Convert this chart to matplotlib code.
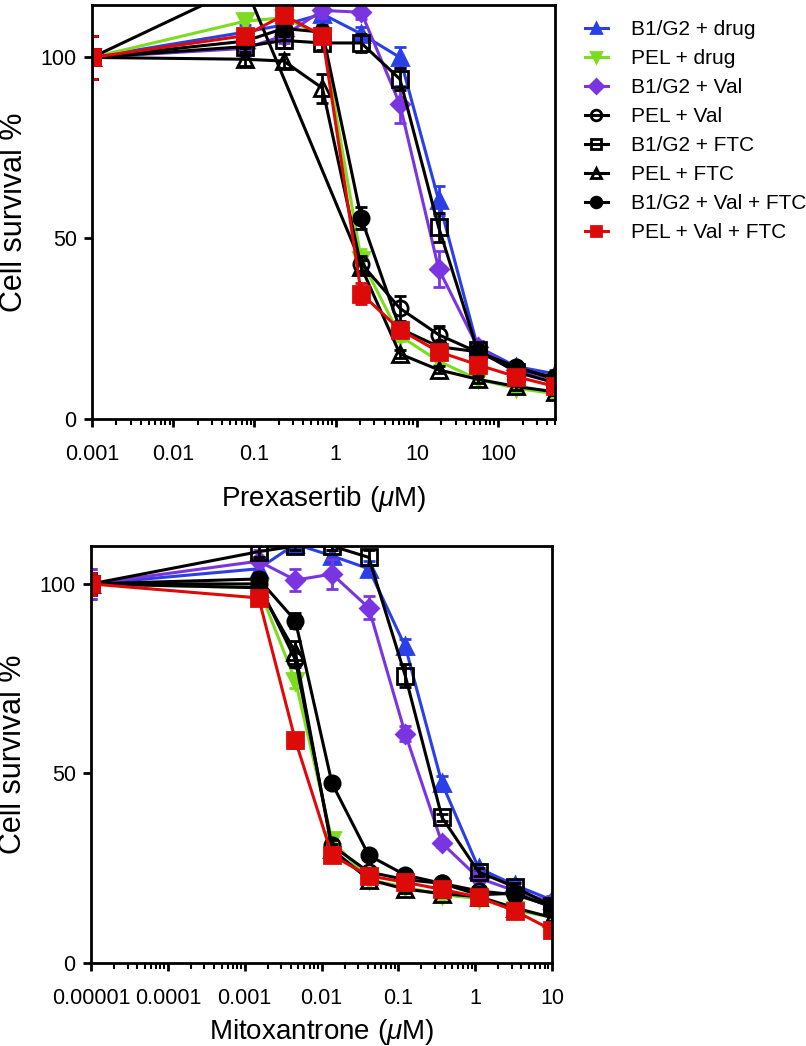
import numpy as np
import matplotlib
matplotlib.use("Agg")
import matplotlib.pyplot as plt
from matplotlib.ticker import LogLocator, NullFormatter, FixedLocator, FixedFormatter

plt.rcParams['font.family'] = ['Liberation Sans', 'DejaVu Sans']
plt.rcParams['mathtext.fontset'] = 'custom'
plt.rcParams['mathtext.rm'] = 'Liberation Sans'
plt.rcParams['mathtext.it'] = 'Liberation Sans:italic'

labels = ["B1/G2 + drug", "PEL + drug", "B1/G2 + Val", "PEL + Val",
          "B1/G2 + FTC", "PEL + FTC", "B1/G2 + Val + FTC", "PEL + Val + FTC"]

# prexasertib (uM), control drawn at 0.001
x_prex = [0.001, 0.0762, 0.229, 0.686, 2.06, 6.17, 18.5, 55.6, 166.7, 500]
prex = {
    "B1/G2 + drug":      [100, 107, 109, 112, 106.5, 100, 60.5, 20, 14.5, 12.5],
    "PEL + drug":        [100, 110, 111, 106, 44, 23, 16, 11, 8.5, 7],
    "B1/G2 + Val":       [100, 102.5, 106, 113, 112.5, 87, 41.5, 20, 13.5, 11],
    "PEL + Val":         [100, 120, None, None, 43, 30.6, 23.3, 18.5, 14, 11.5],
    "B1/G2 + FTC":       [100, 103, 104.7, 104, 104, 94, 53, 19, 13, 10],
    "PEL + FTC":         [100, 99.5, 99, 91.5, 42, 18, 13.6, 11, 9, 7.5],
    "B1/G2 + Val + FTC": [100, 104.5, 108, 107, 55.6, 25, 20, 18.6, 14.4, 11],
    "PEL + Val + FTC":   [100, 106, 111.7, 106, 34.7, 24.7, 18.6, 15, 11.7, 9],
}
prex_err = {
    "B1/G2 + drug":      [6, 2, 2, 2, 2, 3, 4, 1.5, 1, 1],
    "PEL + drug":        [6, 2, 1.5, 1.5, 3, 1.5, 1, 1, 1, 1],
    "B1/G2 + Val":       [6, 2, 2, 2, 2, 5, 5, 1.5, 1, 1],
    "PEL + Val":         [6, 2, 0, 0, 2, 3.5, 2.5, 1.5, 1, 1],
    "B1/G2 + FTC":       [6, 2, 2, 2, 2.5, 3, 4, 1.5, 1, 1],
    "PEL + FTC":         [6, 2, 2, 4, 2, 1, 1, 1, 1, 1],
    "B1/G2 + Val + FTC": [6, 2, 2, 2, 3, 1.5, 1.5, 1, 1, 1],
    "PEL + Val + FTC":   [6, 2, 2, 2, 3, 1.5, 1, 1, 1, 1],
}

# mitoxantrone (uM), control drawn at 0.00001
x_mito = [0.00001, 0.00152, 0.00457, 0.0137, 0.0412, 0.123, 0.370, 1.11, 3.33, 10]
mito = {
    "B1/G2 + drug":      [100, 104, 110.5, 107.4, 104, 83.5, 47.4, 25, 20.5, 16.6],
    "PEL + drug":        [100, 99, 74.5, 32.4, 22, 20, 18, 17, 14, 12],
    "B1/G2 + Val":       [100, 106, 101, 102.6, 93.7, 60.5, 31.6, 22.4, 19, 16],
    "PEL + Val":         [100, 100, 80, 31, 24, 22, 21, 19, 18, 15],
    "B1/G2 + FTC":       [100, 108.5, 110, 110, 107, 75.8, 38.4, 24, 20, 15],
    "PEL + FTC":         [100, 99, 82, 30, 22, 19.5, 18.3, 17.5, 14.5, 12],
    "B1/G2 + Val + FTC": [100, 101.3, 90.3, 47.4, 28.4, 23.2, 21, 18, 18.4, 14.7],
    "PEL + Val + FTC":   [100, 96.3, 58.7, 28.4, 23, 21.3, 19.4, 17.4, 13.7, 8.7],
}
mito_err = {
    "B1/G2 + drug":      [4, 1.5, 1, 1.5, 2, 2, 2, 1, 1, 1],
    "PEL + drug":        [3, 1.5, 2, 1.5, 1, 1, 1, 1, 1, 1],
    "B1/G2 + Val":       [4, 3, 3, 4, 3, 2, 1, 1, 1, 1],
    "PEL + Val":         [3, 1.5, 2, 1.5, 1, 1, 1, 1, 1, 1],
    "B1/G2 + FTC":       [3, 1.5, 1, 1, 2, 3, 1, 1, 1, 1],
    "PEL + FTC":         [3, 1.5, 3, 1.5, 1, 1, 1, 1, 1, 1],
    "B1/G2 + Val + FTC": [3, 1.5, 2, 1, 1, 1, 1, 1, 1, 1],
    "PEL + Val + FTC":   [3, 1.5, 2, 1.5, 1, 1, 1, 1, 1, 1],
}

styles = {
    "B1/G2 + drug":      dict(color="#2b3fe6", marker="^", mfc="#2b3fe6"),
    "PEL + drug":        dict(color="#7ddc1f", marker="v", mfc="#7ddc1f"),
    "B1/G2 + Val":       dict(color="#7a35e0", marker="D", mfc="#7a35e0"),
    "PEL + Val":         dict(color="black", marker="o", mfc="none"),
    "B1/G2 + FTC":       dict(color="black", marker="s", mfc="none"),
    "PEL + FTC":         dict(color="black", marker="^", mfc="none"),
    "B1/G2 + Val + FTC": dict(color="black", marker="o", mfc="black"),
    "PEL + Val + FTC":   dict(color="#dd0a0a", marker="s", mfc="#dd0a0a"),
}


def draw(ax, xs, data, errs):
    handles = []
    for lab in labels:
        st = styles[lab]
        pts = [(x, y, e) for x, y, e in zip(xs, data[lab], errs[lab]) if y is not None]
        px = [p[0] for p in pts]
        py = [p[1] for p in pts]
        pe = [p[2] for p in pts]
        ms = 9.5 if st["marker"] == "D" else 11
        ax.errorbar(px, py, yerr=pe, fmt="none", ecolor=st["color"],
                    elinewidth=2, capsize=4.5, capthick=2)
        h, = ax.plot(px, py, color=st["color"], lw=2.2, marker=st["marker"],
                     ms=ms, mfc=st["mfc"], mec=st["color"], mew=2, label=lab)
        handles.append(h)
    ax.set_xscale("log")
    ax.set_yticks([0, 50, 100])
    for s in ax.spines.values():
        s.set_linewidth(2)
    ax.tick_params(axis="both", which="major", direction="out", length=6,
                   width=2, labelsize=15.5)
    ax.tick_params(axis="y", which="major", pad=5)
    ax.tick_params(axis="x", which="major", pad=12)
    ax.tick_params(axis="x", which="minor", direction="out", length=4, width=1.5)
    ax.xaxis.set_minor_locator(LogLocator(base=10, subs=np.arange(2, 10)))
    ax.xaxis.set_minor_formatter(NullFormatter())
    ax.set_ylabel("Cell survival %", fontsize=22, labelpad=8)
    return handles


fig = plt.figure(figsize=(8.06, 10.46), dpi=100)

ax1 = fig.add_axes([92 / 806, 1 - 419 / 1046, 463 / 806, 414 / 1046])
handles = draw(ax1, x_prex, prex, prex_err)
ax1.set_xlim(0.001, 500)
ax1.set_ylim(0, 114.5)
top_ticks = [0.001, 0.01, 0.1, 1, 10, 100]
ax1.xaxis.set_major_locator(FixedLocator(top_ticks))
ax1.xaxis.set_major_formatter(FixedFormatter(["0.001", "0.01", "0.1", "1", "10", "100"]))
ax1.set_xlabel(r"Prexasertib ($\mu$M)", fontsize=20, labelpad=14)

ax2 = fig.add_axes([91 / 806, 1 - 963 / 1046, 461 / 806, 417 / 1046])
draw(ax2, x_mito, mito, mito_err)
ax2.set_xlim(0.00001, 10)
ax2.set_ylim(0, 110)
bot_ticks = [0.00001, 0.0001, 0.001, 0.01, 0.1, 1, 10]
ax2.xaxis.set_major_locator(FixedLocator(bot_ticks))
ax2.xaxis.set_major_formatter(FixedFormatter(["0.00001", "0.0001", "0.001", "0.01", "0.1", "1", "10"]))
ax2.set_xlabel(r"Mitoxantrone ($\mu$M)", fontsize=20, labelpad=6)

fig.legend(handles=handles, loc="upper left", bbox_to_anchor=(585 / 806, 1 - 20 / 1046),
           frameon=False, fontsize=15, handlelength=1.1, handletextpad=1.1,
           labelspacing=0.48, borderpad=0, borderaxespad=0, markerscale=0.7)

fig.savefig("out.png", dpi=100)
